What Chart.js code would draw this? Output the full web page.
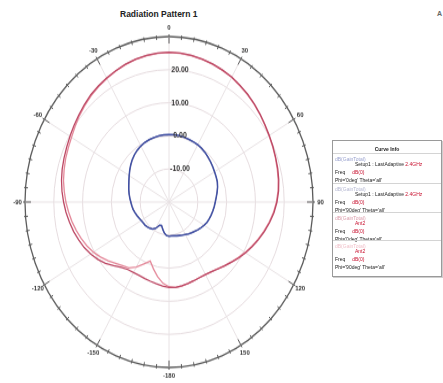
<!DOCTYPE html>
<html>
<head>
<meta charset="utf-8">
<script src="https://cdn.jsdelivr.net/npm/chart.js@4/dist/chart.umd.min.js"></script>
<style>
  body { margin: 0; background: #fff; width: 443px; height: 383px; overflow: hidden; position: relative;
         font-family: "Liberation Sans", Arial, sans-serif; }
  #title { position: absolute; left: 120px; top: 9px; font-size: 8.5px; font-weight: bold; color: #222; white-space: nowrap; }
  #logo { position: absolute; left: 437px; top: 10px; font-size: 7px; font-weight: bold; color: #666; }
  /* the polar plot is squeezed into an ellipse, like the exported report */
  #plot { position: absolute; left: -1px; top: 32px; width: 340px; height: 340px;
          transform: scaleY(1.149); transform-origin: 50% 50%; }
  #legend { position: absolute; left: 332px; top: 140px; width: 108px; height: 135px;
            border: 1px solid #9a9a9a; box-shadow: 1px 1px 0 #cfcfcf; font-size: 5px; color: #222; }
  #legend .row { position: absolute; white-space: nowrap; line-height: 6px; }
  #legend .sep { position: absolute; left: 0; width: 108px; border-top: 1px solid #d4d4d4; }
  #legend .red { color: #c8102e; }
</style>
</head>
<body>
<div id="title">Radiation Pattern 1</div>
<div id="logo">A</div>
<div id="plot"><canvas id="chart-pattern"></canvas></div>
<div id="legend"></div>
<script>
// theta in degrees, one value every 5 degrees
const angles = [0, 5, 10, 15, 20, 25, 30, 35, 40, 45, 50, 55, 60, 65, 70, 75, 80, 85,
  90, 95, 100, 105, 110, 115, 120, 125, 130, 135, 140, 145, 150, 155, 160, 165, 170, 175,
  180, 185, 190, 195, 200, 205, 210, 215, 220, 225, 230, 235, 240, 245, 250, 255, 260, 265,
  270, 275, 280, 285, 290, 295, 300, 305, 310, 315, 320, 325, 330, 335, 340, 345, 350, 355];

// dB(GainTotal) per curve
const gainPhi0 = [0.4, 0.4, 0.4, 0.3, 0.2, 0.1, 0.0, -0.2, -0.5, -0.8, -1.1, -1.4, -1.7, -1.9, -2.1, -2.5, -3.0, -3.5,
  -3.9, -4.2, -4.5, -4.8, -5.1, -5.4, -5.9, -6.4, -6.9, -7.4, -7.8, -8.2, -8.6, -8.9, -9.2, -9.4, -9.6, -9.7,
  -9.6, -9.8, -10.5, -11.5, -12.5, -12.3, -10.8, -10.0, -9.6, -9.3, -9.1, -9.0, -8.8, -8.5, -8.1, -7.7, -7.3, -7.0,
  -6.7, -6.3, -5.9, -5.5, -5.1, -4.6, -4.0, -3.3, -2.6, -1.9, -1.3, -0.8, -0.4, -0.1, 0.1, 0.2, 0.3, 0.4];
const gainPhi90 = [0.3, 0.4, 0.3, 0.3, 0.1, 0.0, -0.1, -0.3, -0.5, -0.9, -1.2, -1.5, -1.8, -2.0, -2.2, -2.6, -3.1, -3.6,
  -4.0, -4.3, -4.6, -4.9, -5.2, -5.5, -6.0, -6.5, -7.0, -7.5, -7.9, -8.3, -8.7, -9.0, -9.3, -9.5, -9.7, -9.8,
  -9.7, -9.9, -10.6, -11.6, -12.4, -12.2, -10.9, -10.1, -9.7, -9.4, -9.2, -9.1, -8.9, -8.6, -8.2, -7.8, -7.4, -7.1,
  -6.8, -6.4, -6.0, -5.6, -5.2, -4.7, -4.1, -3.4, -2.7, -2.0, -1.4, -0.9, -0.5, -0.2, 0.0, 0.2, 0.3, 0.3];
const gainArrayA = [25.3, 25.2, 25.0, 24.7, 24.4, 24.0, 23.6, 23.0, 22.5, 21.9, 21.3, 20.7, 20.2, 19.8, 19.4, 19.1, 18.7, 18.2,
  17.5, 16.6, 15.5, 14.3, 13.1, 11.9, 10.7, 9.5, 8.3, 7.3, 6.4, 5.7, 5.3, 5.2, 5.3, 5.5, 5.7, 5.9,
  5.8, 5.5, 5.1, 4.8, 4.6, 4.5, 4.6, 4.9, 5.8, 7.2, 8.8, 10.2, 11.4, 12.5, 13.4, 14.3, 15.1, 15.9,
  16.6, 17.3, 17.9, 18.4, 18.8, 19.2, 19.7, 20.3, 20.9, 21.6, 22.3, 22.8, 23.3, 23.8, 24.3, 24.7, 25.0, 25.2];
const gainArrayB = [25.2, 25.1, 24.9, 24.6, 24.3, 23.9, 23.5, 22.9, 22.4, 21.8, 21.2, 20.6, 20.1, 19.7, 19.3, 18.9, 18.5, 18.0,
  17.3, 16.4, 15.3, 14.1, 12.9, 11.7, 10.5, 9.3, 8.2, 7.2, 6.3, 5.7, 5.3, 5.2, 5.3, 5.5, 5.8, 5.9,
  5.6, 4.6, 2.9, 0.9, -1.0, 0.6, 2.7, 4.3, 5.1, 6.2, 7.6, 9.0, 10.3, 11.4, 12.4, 13.3, 14.2, 15.0,
  15.8, 16.5, 17.2, 17.7, 18.2, 18.6, 19.1, 19.8, 20.6, 21.3, 22.0, 22.6, 23.1, 23.7, 24.2, 24.6, 24.9, 25.1];

const curveColors = ['#4050a4', '#7478aa', '#bc4864', '#e4899a'];

// labels around the dial and on the rings
const dialAngles = [0, 30, 60, 90, 120, 150, 180, 210, 240, 270, 300, 330];
const dialLabels = ['0', '30', '60', '90', '120', '150', '-180', '-150', '-120', '-90', '-60', '-30'];
const ringValues = [-10, 0, 10, 20];
const ringLabels = ['-10.00', '0.00', '10.00', '20.00'];

// legend text
const legendNames = ['dB(GainTotal)', 'dB(GainTotal)', 'dB(GainTotal)', 'dB(GainTotal)'];
const legendSetup = ['Setup1 : LastAdaptive ', 'Setup1 : LastAdaptive ', '', ''];
const legendFreq = ['2.4GHz', '2.4GHz', 'Ant2 ', 'Ant2 '];
const legendPhi = ["Phi='0deg'", "Phi='90deg'", "Phi='0deg'", "Phi='90deg'"];

function buildLegend() {
  const box = document.getElementById('legend');
  let html = '<div class="row" style="left:0;width:108px;text-align:center;top:5px;font-weight:bold">Curve Info</div>';
  html += '<div class="sep" style="top:12px"></div>';
  const tops = [15, 45, 74, 102];
  tops.forEach((t, i) => {
    if (i > 0) html += `<div class="sep" style="top:${t - 3}px"></div>`;
    html += `<div class="row" style="left:2px;top:${t}px;color:${curveColors[i]};opacity:0.55">${legendNames[i]}</div>`;
    html += `<div class="row" style="left:22px;top:${t + 5}px">${legendSetup[i]}<span class="red">${legendFreq[i]}</span></div>`;
    html += `<div class="row" style="left:2px;top:${t + 13}px">Freq&nbsp;&nbsp; <span class="red">&nbsp;&nbsp;dB(0)</span></div>`;
    html += `<div class="row" style="left:2px;top:${t + 21}px">${legendPhi[i]} Theta='all'</div>`;
  });
  box.innerHTML = html;
}
buildLegend();

// dial ticks, angle labels and ring values
const polarDecor = {
  id: 'polarDecor',
  afterDraw(chart) {
    const s = chart.scales.r;
    const ctx = chart.ctx;
    const R = s.drawingArea;
    ctx.save();
    ctx.strokeStyle = '#5c5c5c';
    ctx.lineWidth = 1;
    angles.forEach((a, i) => {
      const major = a % 30 === 0;
      const p1 = s.getPointPosition(i, R - (major ? 6 : 2.5));
      const p2 = s.getPointPosition(i, R + (major ? 2 : 1.5));
      ctx.beginPath();
      ctx.moveTo(p1.x, p1.y);
      ctx.lineTo(p2.x, p2.y);
      ctx.stroke();
    });
    ctx.fillStyle = '#333';
    ctx.font = 'bold 6px "Liberation Sans", Arial, sans-serif';
    ctx.textAlign = 'center';
    ctx.textBaseline = 'middle';
    dialAngles.forEach((a, k) => {
      const p = s.getPointPosition(angles.indexOf(a), R + 7.5);
      ctx.fillText(dialLabels[k], p.x, p.y);
    });
    ctx.font = 'bold 7px "Liberation Sans", Arial, sans-serif';
    ringValues.forEach((v, k) => {
      const d = s.getDistanceFromCenterForValue(v);
      ctx.fillText(ringLabels[k], s.xCenter + 11, s.yCenter - d);
    });
    ctx.restore();
  }
};

const series = [gainPhi0, gainPhi90, gainArrayA, gainArrayB];

new Chart(document.getElementById('chart-pattern'), {
  type: 'radar',
  data: {
    labels: angles,
    datasets: series.map((d, i) => ({
      label: legendNames[i],
      data: d,
      borderColor: curveColors[i],
      borderWidth: 1.3,
      pointRadius: 0,
      fill: false
    }))
  },
  options: {
    responsive: true,
    maintainAspectRatio: false,
    animation: false,
    layout: { padding: 26 },
    plugins: { legend: { display: false }, tooltip: { enabled: false } },
    scales: {
      r: {
        min: -20,
        max: 30,
        beginAtZero: false,
        ticks: { display: false, stepSize: 10 },
        pointLabels: { display: false },
        grid: {
          circular: true,
          color: c => c.tick && c.tick.value === 30 ? '#5c5c5c' : '#e6dcdf',
          lineWidth: c => c.tick && c.tick.value === 30 ? 1.3 : 1
        },
        angleLines: {
          color: c => c.index % 6 === 0 ? '#e8e2e4' : 'rgba(0,0,0,0)',
          lineWidth: 1
        }
      }
    }
  },
  plugins: [polarDecor]
});
</script>
</body>
</html>
